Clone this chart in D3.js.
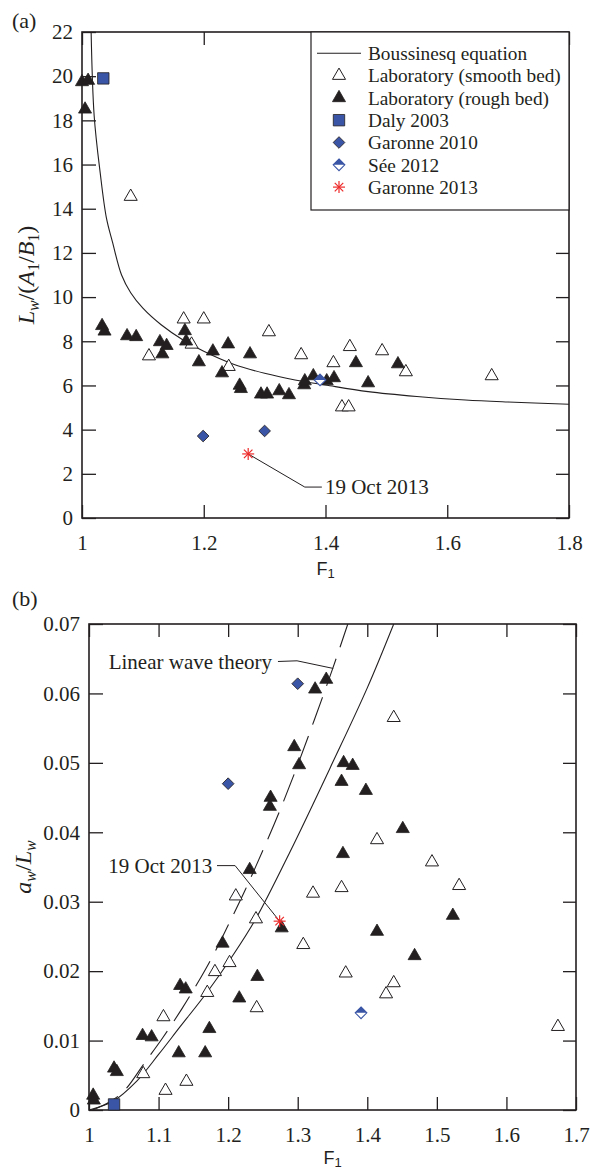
<!DOCTYPE html>
<html>
<head>
<meta charset="utf-8">
<script src="https://cdn.jsdelivr.net/npm/d3@7"></script>
<style>
  body { margin: 0; background: #fff; }
  text { font-family: "Liberation Serif", "Times New Roman", serif; fill: #231f20; }
  text.sans { font-family: "Liberation Sans", Arial, sans-serif; }
</style>
</head>
<body>
<svg id="fig" width="590" height="1172"></svg>
<script>
// ---------- panel (a): F1 vs Lw/(A1/B1) ----------
const smoothA = [
  [1.080, 14.55], [1.110, 7.33], [1.167, 9.00], [1.180, 7.86], [1.200, 9.00],
  [1.241, 6.85], [1.307, 8.42], [1.360, 7.38], [1.413, 7.02], [1.440, 7.75],
  [1.493, 7.56], [1.532, 6.61], [1.427, 5.02], [1.438, 5.02], [1.673, 6.43]
];
const roughA = [
  [1.000, 19.74], [1.010, 19.80], [1.005, 18.50], [1.033, 8.70], [1.037, 8.45],
  [1.074, 8.24], [1.089, 8.20], [1.128, 7.97], [1.132, 7.42], [1.139, 7.80],
  [1.169, 8.47], [1.171, 8.00], [1.192, 7.06], [1.215, 7.55], [1.230, 6.56],
  [1.240, 7.87], [1.259, 6.00], [1.261, 5.85], [1.276, 7.42], [1.294, 5.60],
  [1.304, 5.60], [1.324, 5.75], [1.340, 5.57], [1.365, 6.02], [1.366, 6.20],
  [1.380, 6.43], [1.402, 6.20], [1.414, 6.34], [1.450, 7.02], [1.470, 6.11],
  [1.519, 6.97]
];
const dalyA = [[1.035, 19.9]];
const garonne2010A = [[1.199, 3.71], [1.300, 3.94]];
const see2012A = [[1.391, 6.25]];
const garonne2013A = [[1.273, 2.90]];
const boussinesqA = [
  [1.015, 22.0], [1.020, 18.2], [1.030, 15.6], [1.040, 13.6], [1.050, 12.5],
  [1.065, 11.0], [1.080, 10.2], [1.100, 9.5], [1.130, 8.75], [1.166, 8.06],
  [1.200, 7.55], [1.250, 6.95], [1.300, 6.55], [1.350, 6.25], [1.400, 6.02],
  [1.470, 5.72], [1.550, 5.50], [1.630, 5.34], [1.700, 5.25], [1.800, 5.15]
];
const xTicksA = [1, 1.2, 1.4, 1.6, 1.8];
const xLabelsA = ["1", "1.2", "1.4", "1.6", "1.8"];
const yTicksA = [0, 2, 4, 6, 8, 10, 12, 14, 16, 18, 20, 22];
const yLabelsA = ["0", "2", "4", "6", "8", "10", "12", "14", "16", "18", "20", "22"];

// ---------- panel (b): F1 vs aw/Lw ----------
const smoothB = [
  [1.438, 0.0565], [1.414, 0.0389], [1.493, 0.0357], [1.532, 0.0323], [1.363, 0.0320],
  [1.322, 0.0312], [1.308, 0.0238], [1.369, 0.0197], [1.438, 0.0183], [1.427, 0.0167],
  [1.674, 0.0120], [1.211, 0.0308], [1.240, 0.0275], [1.202, 0.0212], [1.181, 0.0199],
  [1.170, 0.0169], [1.241, 0.0147], [1.107, 0.0134], [1.078, 0.0052], [1.140, 0.0041],
  [1.110, 0.0028]
];
const roughB = [
  [1.341, 0.0620], [1.325, 0.0606], [1.295, 0.0523], [1.302, 0.0497], [1.261, 0.0450],
  [1.260, 0.0437], [1.366, 0.0500], [1.379, 0.0496], [1.363, 0.0473], [1.398, 0.0460],
  [1.451, 0.0405], [1.365, 0.0369], [1.231, 0.0346], [1.523, 0.0280], [1.277, 0.0262],
  [1.414, 0.0257], [1.192, 0.0240], [1.468, 0.0222], [1.242, 0.0192], [1.131, 0.0179],
  [1.139, 0.0174], [1.216, 0.0161], [1.173, 0.0117], [1.077, 0.0107], [1.090, 0.0105],
  [1.129, 0.0082], [1.167, 0.0082], [1.036, 0.0060], [1.040, 0.0055], [1.006, 0.0021],
  [1.007, 0.0014]
];
const dalyB = [[1.036, 0.0008]];
const garonne2010B = [[1.200, 0.0470], [1.300, 0.0614]];
const see2012B = [[1.391, 0.0140]];
const garonne2013B = [[1.274, 0.0272]];
const linearWaveB = [
  [1.005, 0.0000], [1.030, 0.0012], [1.050, 0.0027], [1.080, 0.0068], [1.106, 0.0104],
  [1.133, 0.0145], [1.155, 0.0181], [1.177, 0.0220], [1.200, 0.0266], [1.225, 0.0318],
  [1.250, 0.0374], [1.275, 0.0433], [1.300, 0.0497], [1.325, 0.0565], [1.350, 0.0635],
  [1.372, 0.0700]
];
const solidCurveB = [
  [1.000, 0.0000], [1.035, 0.0013], [1.069, 0.0042], [1.100, 0.0080], [1.131, 0.0120],
  [1.170, 0.0170], [1.205, 0.0220], [1.239, 0.0274], [1.289, 0.0372], [1.350, 0.0500],
  [1.400, 0.0608], [1.438, 0.0700]
];
const xTicksB = [1, 1.1, 1.2, 1.3, 1.4, 1.5, 1.6, 1.7];
const xLabelsB = ["1", "1.1", "1.2", "1.3", "1.4", "1.5", "1.6", "1.7"];
const yTicksB = [0, 0.01, 0.02, 0.03, 0.04, 0.05, 0.06, 0.07];
const yLabelsB = ["0", "0.01", "0.02", "0.03", "0.04", "0.05", "0.06", "0.07"];

const legendItems = [
  "Boussinesq equation", "Laboratory (smooth bed)", "Laboratory (rough bed)",
  "Daly 2003", "Garonne 2010", "Sée 2012", "Garonne 2013"
];

const ink = "#231f20";
const blue = "#3a55a5";
const red = "#ee2b2b";

const svg = d3.select("#fig");

const triSym = d3.symbol().type(d3.symbolTriangle).size(74)();
const sqSym = d3.symbol().type(d3.symbolSquare).size(130)();
const diaSym = d3.symbol().type(d3.symbolSquare).size(68)();

function translate(x, y) {
  return "translate(" + x + "," + y + ")";
}

function drawMarker(g, kind, px, py) {
  const m = g.append("g").attr("transform", translate(px, py));
  if (kind === "open") {
    m.append("path").attr("d", triSym).attr("fill", "#fff").attr("stroke", ink).attr("stroke-width", 1);
  } else if (kind === "filled") {
    m.append("path").attr("d", triSym).attr("fill", ink).attr("stroke", ink).attr("stroke-width", 0.8);
  } else if (kind === "square") {
    m.append("path").attr("d", sqSym).attr("fill", blue).attr("stroke", ink).attr("stroke-width", 0.8);
  } else if (kind === "diamond") {
    m.append("path").attr("d", diaSym).attr("transform", "rotate(45)")
      .attr("fill", blue).attr("stroke", ink).attr("stroke-width", 0.8);
  } else if (kind === "half") {
    const r = 5.8;
    m.append("path").attr("d", `M0,${-r}L${r},0L0,${r}L${-r},0Z`)
      .attr("fill", "#fff").attr("stroke", blue).attr("stroke-width", 1.1);
    m.append("path").attr("d", `M0,${-r}L${r},0L${-r},0Z`).attr("fill", blue);
  } else if (kind === "star") {
    const r = 6;
    [0, 45, 90, 135].forEach(a => {
      const rad = a * Math.PI / 180;
      m.append("line")
        .attr("x1", -r * Math.cos(rad)).attr("y1", -r * Math.sin(rad))
        .attr("x2", r * Math.cos(rad)).attr("y2", r * Math.sin(rad))
        .attr("stroke", red).attr("stroke-width", 1.2);
    });
  }
}

function drawPanel(opt) {
  const x = d3.scaleLinear().domain(opt.xDomain).range([opt.left, opt.right]);
  const y = d3.scaleLinear().domain(opt.yDomain).range([opt.bottom, opt.top]);
  const g = svg.append("g");

  g.append("clipPath").attr("id", opt.id + "-clip")
    .append("rect")
    .attr("x", opt.left).attr("y", opt.top)
    .attr("width", opt.right - opt.left).attr("height", opt.bottom - opt.top);

  const styleAxis = sel => {
    sel.select(".domain").remove();
    sel.selectAll(".tick line").attr("stroke", ink).attr("stroke-width", 1.3);
    sel.selectAll(".tick text").attr("font-size", 21);
  };

  g.append("g").attr("transform", translate(0, opt.bottom))
    .call(d3.axisBottom(x).tickValues(opt.xTicks).tickFormat((d, i) => opt.xLabels[i])
      .tickSizeInner(-13).tickSizeOuter(0).tickPadding(17))
    .call(styleAxis);
  g.append("g").attr("transform", translate(0, opt.top))
    .call(d3.axisTop(x).tickValues(opt.xTicks).tickFormat("").tickSizeInner(-13).tickSizeOuter(0))
    .call(styleAxis);
  g.append("g").attr("transform", translate(opt.left, 0))
    .call(d3.axisLeft(y).tickValues(opt.yTicks).tickFormat((d, i) => opt.yLabels[i])
      .tickSizeInner(-14).tickSizeOuter(0).tickPadding(9))
    .call(styleAxis);
  g.append("g").attr("transform", translate(opt.right, 0))
    .call(d3.axisRight(y).tickValues(opt.yTicks).tickFormat("").tickSizeInner(-13).tickSizeOuter(0))
    .call(styleAxis);

  g.append("rect")
    .attr("x", opt.left).attr("y", opt.top)
    .attr("width", opt.right - opt.left).attr("height", opt.bottom - opt.top)
    .attr("fill", "none").attr("stroke", ink).attr("stroke-width", 1.6);

  const line = d3.line().x(d => x(d[0])).y(d => y(d[1])).curve(d3.curveCatmullRom.alpha(0.5));
  const lines = g.append("g").attr("clip-path", `url(#${opt.id}-clip)`);
  opt.curves.forEach(c => {
    lines.append("path").attr("d", line(c.data))
      .attr("fill", "none").attr("stroke", ink).attr("stroke-width", 1.1)
      .attr("stroke-dasharray", c.dash || null);
  });

  // annotation leaders
  opt.notes.forEach(n => {
    g.append("path")
      .attr("d", d3.line().x(d => x(d[0])).y(d => y(d[1]))(n.path))
      .attr("fill", "none").attr("stroke", ink).attr("stroke-width", 1);
    g.append("text")
      .attr("x", x(n.at[0])).attr("y", y(n.at[1])).attr("dy", "0.35em")
      .attr("text-anchor", n.anchor).attr("font-size", 21)
      .text(n.text);
  });

  const marks = g.append("g");
  opt.series.forEach(s => {
    s.data.forEach(d => drawMarker(marks, s.kind, x(d[0]), y(d[1])));
  });

  // panel letter
  svg.append("text").attr("x", 12).attr("y", opt.letterY).attr("font-size", 22).text(opt.letter);

  // x label F1
  const xl = svg.append("text").attr("class", "sans")
    .attr("x", (opt.left + opt.right) / 2).attr("y", opt.xLabelY)
    .attr("text-anchor", "middle").attr("font-size", 18);
  xl.append("tspan").text("F");
  xl.append("tspan").attr("dy", 3).attr("font-size", 13).text("1");

  // y label
  const yl = svg.append("text")
    .attr("transform", translate(opt.yLabelX, (opt.top + opt.bottom) / 2) + " rotate(-90)")
    .attr("text-anchor", "middle").attr("font-size", 24);
  let sub = false;
  opt.yLabel.forEach(p => {
    const t = yl.append("tspan").text(p.t);
    if (p.i) t.attr("font-style", "italic");
    if (p.s) t.attr("font-size", 16);
    if (p.s && !sub) { t.attr("dy", 5); sub = true; }
    else if (!p.s && sub) { t.attr("dy", -5); sub = false; }
  });

  return { x, y };
}

drawPanel({
  id: "a", letter: "(a)", letterY: 28,
  left: 82, right: 569, top: 32, bottom: 518,
  xDomain: [1, 1.8], yDomain: [0, 22],
  xTicks: xTicksA, xLabels: xLabelsA, yTicks: yTicksA, yLabels: yLabelsA,
  xLabelY: 575, yLabelX: 34,
  yLabel: [
    { t: "L", i: true }, { t: "w", i: true, s: true }, { t: "/(" }, { t: "A", i: true },
    { t: "1", s: true }, { t: "/" }, { t: "B", i: true }, { t: "1", s: true }, { t: ")" }
  ],
  curves: [{ data: boussinesqA }],
  notes: [{
    path: [[1.273, 2.90], [1.366, 1.40], [1.394, 1.40]],
    at: [1.399, 1.40], anchor: "start", text: "19 Oct 2013"
  }],
  series: [
    { kind: "open", data: smoothA }, { kind: "filled", data: roughA },
    { kind: "square", data: dalyA }, { kind: "diamond", data: garonne2010A },
    { kind: "half", data: see2012A }, { kind: "star", data: garonne2013A }
  ]
});

drawPanel({
  id: "b", letter: "(b)", letterY: 606,
  left: 89, right: 576, top: 624, bottom: 1110,
  xDomain: [1, 1.7], yDomain: [0, 0.07],
  xTicks: xTicksB, xLabels: xLabelsB, yTicks: yTicksB, yLabels: yLabelsB,
  xLabelY: 1164, yLabelX: 31,
  yLabel: [
    { t: "a", i: true }, { t: "w", i: true, s: true }, { t: "/" },
    { t: "L", i: true }, { t: "w", i: true, s: true }
  ],
  curves: [{ data: solidCurveB }, { data: linearWaveB, dash: "29,12" }],
  notes: [
    {
      path: [[1.2716, 0.0646], [1.299, 0.0647], [1.351, 0.0636]],
      at: [1.263, 0.0646], anchor: "end", text: "Linear wave theory"
    },
    {
      path: [[1.184, 0.0352], [1.210, 0.0352], [1.274, 0.0272]],
      at: [1.177, 0.0352], anchor: "end", text: "19 Oct 2013"
    }
  ],
  series: [
    { kind: "open", data: smoothB }, { kind: "filled", data: roughB },
    { kind: "square", data: dalyB }, { kind: "diamond", data: garonne2010B },
    { kind: "half", data: see2012B }, { kind: "star", data: garonne2013B }
  ]
});

// legend for panel (a)
const legend = svg.append("g").attr("transform", translate(311, 32));
legend.append("rect").attr("width", 258).attr("height", 178)
  .attr("fill", "#fff").attr("stroke", ink).attr("stroke-width", 1.2);
const legendKinds = ["line", "open", "filled", "square", "diamond", "half", "star"];
legendItems.forEach((label, i) => {
  const cy = 21.3 + i * 22.3;
  if (legendKinds[i] === "line") {
    legend.append("line").attr("x1", 6).attr("x2", 50).attr("y1", cy).attr("y2", cy)
      .attr("stroke", ink).attr("stroke-width", 1.1);
  } else {
    drawMarker(legend, legendKinds[i], 28, cy);
  }
  legend.append("text").attr("x", 57).attr("y", cy).attr("dy", "0.35em")
    .attr("font-size", 19.3).text(label);
});
</script>
</body>
</html>
